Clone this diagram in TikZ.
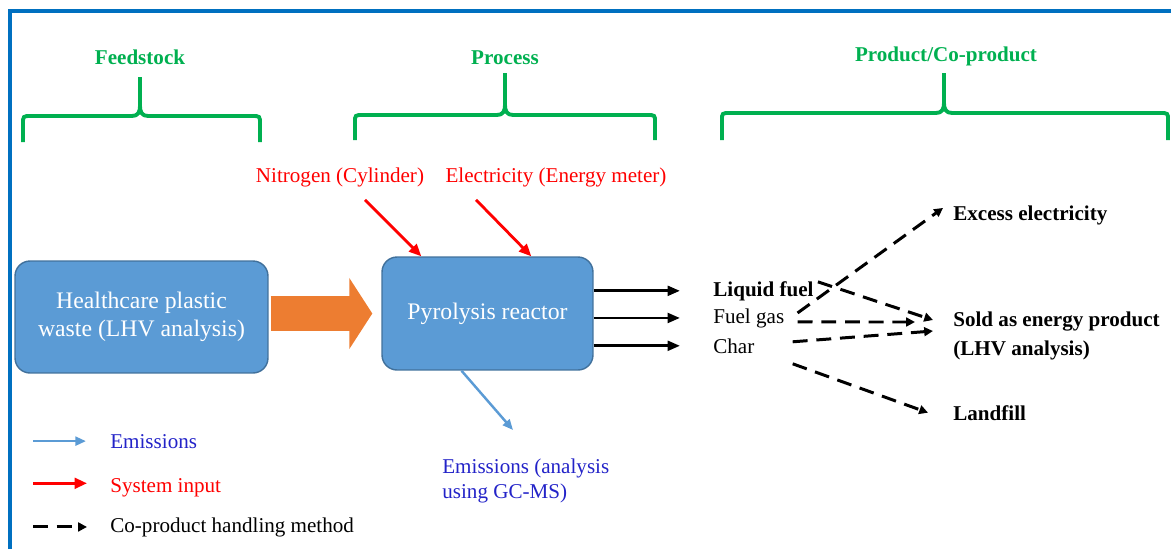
\documentclass[tikz,border=0pt]{standalone}
\usepackage{fontspec}
\setmainfont{Liberation Serif}
\usetikzlibrary{arrows.meta,calc}

\definecolor{boxblue}{HTML}{5B9BD5}
\definecolor{boxedge}{HTML}{41719C}
\definecolor{frameblue}{HTML}{0070C0}
\definecolor{headgreen}{HTML}{00B050}
\definecolor{feedorange}{HTML}{ED7D31}
\definecolor{emistext}{HTML}{2323C8}

\tikzset{
  unitbox/.style={draw=boxedge, fill=boxblue, line width=0.8pt, rounded corners=0.3cm,
    text=white, align=center, font=\fontsize{13.5}{16}\selectfont},
  heading/.style={text=headgreen, font=\fontsize{12}{14}\selectfont\bfseries},
  bracket/.style={headgreen, line width=2.2pt},
  label/.style={inner sep=0pt, anchor=base west},
  sysin/.style={red, line width=1.6pt, -{Triangle[length=7pt,width=6pt]}},
  emis/.style={boxblue, line width=1.4pt, -{Triangle[length=6pt,width=5pt]}},
  prod/.style={black, line width=1.6pt, -{Triangle[length=7pt,width=5.5pt]}},
  coprod/.style={black, line width=1.7pt, dash pattern=on 8.5pt off 5pt, -{Triangle[length=5pt,width=5pt]}},
  feed/.style={feedorange, line width=0.7cm, -{Triangle[length=0.46cm,width=1.4cm]}}
}

\begin{document}
\begin{tikzpicture}[x=0.02cm, y=-0.02cm, font=\fontsize{12}{15.5}\selectfont]
  \useasboundingbox (0,0) rectangle (1171,549);
  \draw[frameblue, line width=2.4pt] (10,549) -- (10,11) -- (1171,11);

  % stages
  \node[heading] (feedhead) at (140,57) {Feedstock};
  \node[heading] (prochead) at (505,58) {Process};
  \node[heading] (prodhead) at (946,56) {Product/Co-product};

  \draw[bracket] (23,142) -- (23,124) .. controls (23,116) .. (31,116) -- (132,116) .. controls (138,116) and (140,112) .. (140,106) -- (140,77);
  \draw[bracket] (140,106) .. controls (140,112) and (142,116) .. (148,116) -- (252,116) .. controls (260,116) .. (260,124) -- (260,142);
  \draw[bracket] (355,140) -- (355,122) .. controls (355,115) .. (363,115) -- (497,115) .. controls (503,115) and (505,111) .. (505,105) -- (505,73);
  \draw[bracket] (505,105) .. controls (505,111) and (507,115) .. (513,115) -- (647,115) .. controls (655,115) .. (655,122) -- (655,140);
  \draw[bracket] (722,140) -- (722,120) .. controls (722,113) .. (730,113) -- (936,113) .. controls (942,113) and (944,109) .. (944,103) -- (944,73);
  \draw[bracket] (944,103) .. controls (944,109) and (946,113) .. (952,113) -- (1160,113) .. controls (1168,113) .. (1168,120) -- (1168,140);

  % main boxes
  \node[unitbox, minimum width=5.06cm, minimum height=2.24cm] (waste) at (141.5,317) {Healthcare plastic\\waste (LHV analysis)};
  \node[unitbox, minimum width=4.22cm, minimum height=2.26cm] (reactor) at (487.5,313.5) {Pyrolysis reactor};
  \draw[feed, shorten <=0.04cm, shorten >=0.18cm] (reactor.west -| waste.east) -- (reactor.west);

  % system inputs
  \node[red] (nitro) at (340,177) {Nitrogen (Cylinder)};
  \node[red] (elec) at (556,177) {Electricity (Energy meter)};
  \draw[sysin] ($(nitro.south)+(25,7)$) -- ($(reactor.north west)+(40,0)$);
  \draw[sysin] ($(elec.south)+(-80,7)$) -- ($(reactor.north west)+(150,0)$);

  % emissions
  \node[emistext, inner sep=0pt, anchor=north west, align=left, font=\fontsize{12}{14}\selectfont] (emisout) at (442,459) {Emissions (analysis\\using GC-MS)};
  \draw[emis] ($(reactor.south)+(-26,0)$) -- ($(emisout.north west)+(71,-29)$);

  % products
  \node[label, font=\fontsize{12}{14}\selectfont\bfseries] (liquid) at (713,296) {Liquid fuel};
  \node[label] (fuelgas) at (713,323) {Fuel gas};
  \node[label] (char) at (713,353) {Char};
  \draw[prod] (reactor.east |- liquid.west) -- ($(liquid.west)+(-33,0)$);
  \draw[prod] (reactor.east |- fuelgas.west) -- ($(fuelgas.west)+(-33,0)$);
  \draw[prod] (reactor.east |- char.west) -- ($(char.west)+(-33,0)$);

  % co-product handling
  \node[label, font=\fontsize{12}{14}\selectfont\bfseries] (excess) at (953,220) {Excess electricity};
  \node[inner sep=0pt, anchor=west, align=left, font=\fontsize{12}{16}\selectfont\bfseries] (sold) at (953,336) {Sold as energy product\\(LHV analysis)};
  \node[label, font=\fontsize{12}{14}\selectfont\bfseries] (landfill) at (953,420) {Landfill};
  \draw[coprod] ($(fuelgas.east)+(13,-5)$) -- ($(excess.west)+(-10,-7)$);
  \draw[coprod] ($(liquid.east)+(4,-9)$) -- ($(sold.west)+(-20,-16)$);
  \draw[coprod] ($(fuelgas.east)+(13,4)$) -- ($(sold.west)+(-38,-14)$);
  \draw[coprod] ($(char.east)+(38,-4)$) -- ($(sold.west)+(-20,-5)$);
  \draw[coprod] ($(char.east)+(38,18)$) -- ($(landfill.west)+(-25,0)$);

  % legend
  \node[label, emistext] (lgemis) at (110,448) {Emissions};
  \node[label, red] (lgsys) at (110,492) {System input};
  \node[label] (lgco) at (110,532) {Co-product handling method};
  \draw[emis] ($(lgemis.west)+(-77,0)$) -- ($(lgemis.west)+(-24,0)$);
  \draw[sysin] ($(lgsys.west)+(-77,-4)$) -- ($(lgsys.west)+(-23,-4)$);
  \draw[coprod] ($(lgco.west)+(-77,0)$) -- ($(lgco.west)+(-23,0)$);
\end{tikzpicture}
\end{document}
